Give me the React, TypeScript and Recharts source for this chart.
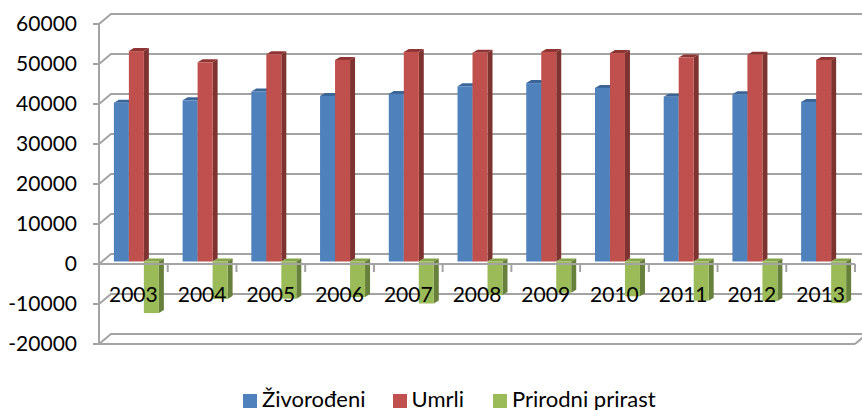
import React from "react";
import { ComposedChart, Bar, XAxis, YAxis, CartesianGrid, ReferenceLine, Legend } from "recharts";

const years = ["2003", "2004", "2005", "2006", "2007", "2008", "2009", "2010", "2011", "2012", "2013"];
const zivorodeni = [39700, 40300, 42500, 41400, 41900, 43800, 44600, 43400, 41200, 41800, 39900];
const umrli = [52600, 49800, 51800, 50400, 52400, 52200, 52400, 52100, 51000, 51700, 50400];
const prirast = [-12900, -9400, -9300, -8900, -10500, -8400, -7800, -8700, -9800, -9900, -10400];
const yTicks = [-20000, -10000, 0, 10000, 20000, 30000, 40000, 50000, 60000];

const data = years.map((y, i) => ({ year: y, z: zivorodeni[i], u: umrli[i], p: prirast[i] }));

const W = 862, H = 410;
const LEFT = 99, RIGHT = 855, TOP = 24, BOTTOM = 344;
const GRID = "#a3a3a3";
const FONT = "Lato, Carlito, sans-serif";
const DX = 12, DY = 10;

const box = (front: string, top: string, side: string) => (p: any) => {
  const w = p.width;
  const h = Math.abs(p.height);
  const x = p.x + 3.6;
  const y = Math.min(p.y, p.y + p.height) - 2.5;
  const d = 5, e = 3;
  return (
    <g>
      <polygon points={`${x},${y} ${x + d},${y - e} ${x + w + d},${y - e} ${x + w},${y}`} fill={top} />
      <polygon points={`${x + w},${y} ${x + w + d},${y - e} ${x + w + d},${y + h - e} ${x + w},${y + h}`} fill={side} />
      <rect x={x} y={y} width={w} height={h} fill={front} />
    </g>
  );
};

const gridLine = (p: any) => {
  const { x1, y1, x2 } = p;
  return (
    <g key={p.key ?? y1}>
      <polyline points={`${x1},${y1} ${x1 + DX},${y1 - DY} ${x2 + DX},${y1 - DY}`} fill="none" stroke={GRID} strokeWidth={2} />
      {Math.abs(y1 - BOTTOM) < 1 && <line x1={x2} y1={y1} x2={x2 + DX} y2={y1 - DY} stroke={GRID} strokeWidth={2} />}
    </g>
  );
};

const yearTick = (p: any) => {
  const band = (RIGHT - LEFT) / years.length;
  const left = p.x - band / 2;
  return (
    <g>
      <line x1={left} y1={264} x2={left} y2={272} stroke={GRID} strokeWidth={2} />
      {p.index === years.length - 1 && <line x1={left + band} y1={264} x2={left + band} y2={272} stroke={GRID} strokeWidth={2} />}
      <text x={p.x} y={302} textAnchor="middle" fontFamily={FONT} fontSize={21} fill="#000">{p.payload.value}</text>
    </g>
  );
};

const legendContent = (p: any) => (
  <div style={{ display: "flex", fontFamily: FONT, fontSize: 22, lineHeight: "21px", color: "#000" }}>
    {p.payload.map((it: any, i: number) => (
      <div key={it.value} style={{ display: "flex", alignItems: "center", marginRight: i === 0 ? 27 : i === 1 ? 29 : 0 }}>
        <span style={{ width: 14, height: 14, background: it.color, marginRight: 5, marginTop: 5, display: "inline-block" }} />
        <span style={{ whiteSpace: "nowrap" }}>{it.value}</span>
      </div>
    ))}
  </div>
);

export default function App() {
  return (
    <div style={{ position: "absolute", left: 0, top: 0, width: W, height: H, background: "#fff" }}>
      <ComposedChart width={W} height={H} data={data} margin={{ top: TOP, right: W - RIGHT, bottom: 0, left: 0 }} barGap={0} barCategoryGap="16.4%">
        <CartesianGrid vertical={false} horizontal={gridLine} horizontalValues={yTicks} />
        <ReferenceLine y={0} stroke={GRID} strokeWidth={2} />
        <XAxis dataKey="year" height={H - BOTTOM} axisLine={{ stroke: GRID, strokeWidth: 2 }} tickLine={false} tick={yearTick} interval={0} />
        <YAxis width={LEFT} domain={[-20000, 60000]} ticks={yTicks} interval={0} allowDataOverflow
          axisLine={{ stroke: GRID, strokeWidth: 2 }} tickLine={{ stroke: GRID, strokeWidth: 2 }} tickSize={6} tickMargin={16}
          tick={{ fontFamily: FONT, fontSize: 21, fill: "#000" }} />
        <Bar dataKey="z" name="Živorođeni" fill="#4f81bd" isAnimationActive={false} shape={box("#4f81bd", "#3a6596", "#37608f")} />
        <Bar dataKey="u" name="Umrli" fill="#c0504d" isAnimationActive={false} shape={box("#c0504d", "#8e3533", "#7f3331")} />
        <Bar dataKey="p" name="Prirodni prirast" fill="#9bbb59" isAnimationActive={false} shape={box("#9bbb59", "#86a44a", "#67803b")} />
        <Legend verticalAlign="middle" align="center" itemSorter={null} content={legendContent} wrapperStyle={{ left: 243, top: 388, width: 450 }} />
      </ComposedChart>
    </div>
  );
}
